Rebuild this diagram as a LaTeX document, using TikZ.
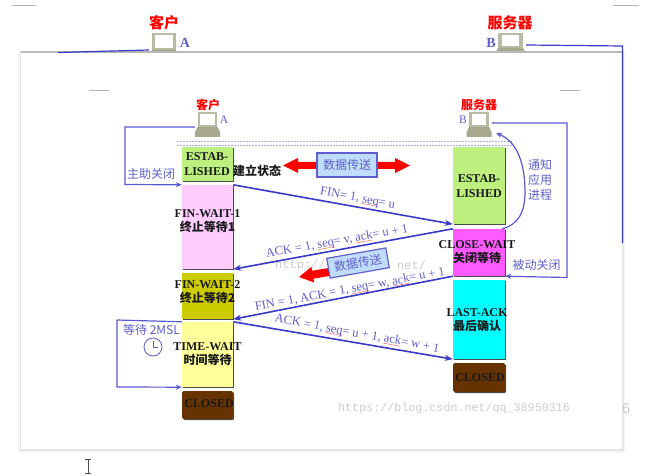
\documentclass[tikz,border=0pt]{standalone}
\usepackage{fontspec}
\setmainfont{Liberation Serif}
\setmonofont{Liberation Mono}
\newfontfamily\cjk{Noto Sans CJK SC}
\usetikzlibrary{arrows.meta,shadows,calc}
\definecolor{lnblue}{HTML}{3A3AC8}
\definecolor{lblblue}{HTML}{5F5FCC}
\definecolor{pcgray}{HTML}{A9A98F}
\definecolor{boxblue}{HTML}{BFDDFB}
\newcommand{\squig}[1]{\setbox0=\hbox{#1}\rlap{\color{red!70}\rule[-1.4pt]{\wd0}{0.4pt}}\box0}
\tikzset{
  statebox/.style={inner sep=0pt,copy shadow={shadow xshift=1.2pt,shadow yshift=-1.2pt,fill=black!70,draw=none}},
  flow/.style={draw=lnblue,line width=1.6pt,-{Stealth[length=8pt,width=6pt]}},
  loopline/.style={draw=lnblue!85,line width=1.2pt,-{Stealth[length=6pt,width=5pt]}},
  flowlabel/.style={inner sep=0pt,text=lblblue,font=\fontsize{12.5}{14}\selectfont},
  cnlabel/.style={inner sep=0pt,text=lblblue,font=\fontsize{12}{15}\selectfont\cjk,align=center},
  redlabel/.style={inner sep=0pt,text=red,font=\fontsize{12}{14}\selectfont\cjk\bfseries},
  toplabel/.style={inner sep=0pt,text=red,font=\fontsize{15}{17}\selectfont\cjk\bfseries},
  letter/.style={inner sep=0pt,text=lblblue,font=\fontsize{11.5}{13}\selectfont},
  topletter/.style={inner sep=0pt,text=lblblue,font=\fontsize{14}{15}\selectfont\bfseries},
  databox/.style={draw=lblblue,line width=1.2pt,fill=boxblue,inner sep=0pt,text=lblblue,font=\fontsize{12}{14}\selectfont\cjk},
  redarrow/.style={draw=none,fill=red},
  tick/.style={draw=black!30,line width=.7pt},
  pcnode/.style={inner sep=0pt,minimum height=20pt},
  water/.style={inner sep=0pt,text=black!20,font=\fontsize{12}{14}\selectfont\ttfamily},
  statetext/.style={inner sep=0pt,align=center,text=black!90,font=\fontsize{12}{14.5}\selectfont\bfseries}
}
% #1 name, #2 x centre, #3 y top, #4 half width of base, #5 screen height
\newcommand{\pcicon}[5]{%
  \node[pcnode,minimum width={2*#4*1pt}] (#1) at (#2,#3+10) {};
  \fill[pcgray!80] (#2-#4*.78,#3) rectangle (#2+#4*.78,#3+#5);
  \fill[white] (#2-#4*.58,#3+2) rectangle (#2+#4*.58,#3+#5-1.5);
  \fill[pcgray] (#2-#4*.8,#3+#5) -- (#2+#4*.8,#3+#5) -- (#2+#4,#3+#5+5) -- (#2+#4,#3+#5+10) -- (#2-#4,#3+#5+10) -- (#2-#4,#3+#5+5) -- cycle;
}
\begin{document}
\begin{tikzpicture}[x=1pt,y=-1pt]
\useasboundingbox (0,0) rectangle (649,476);
\fill[white] (0,0) rectangle (649,476);
% back sheet
\draw[tick] (12,5) -- (36,5);
\draw[tick] (613,5) -- (639,5);
\node[toplabel] (tc) at (164,23) {客户};
\node[toplabel] (ts) at (510,23) {服务器};
\pcicon{tpa}{164}{33}{15}{17}
\pcicon{tpb}{510.5}{33}{15.5}{15}
\node[topletter] (ta) at (185,43) {A};
\node[topletter] (tb) at (491,43) {B};
% front sheet
\fill[black!4] (18,51) rectangle (625,453);
\fill[black!10] (19.5,51.5) rectangle (623.5,451);
\fill[black!28] (21,51) rectangle (622,53);
\node[fill=white,inner sep=0pt,minimum width=601pt,minimum height=396pt] (sheet) at (321.5,251) {};
\coordinate (tl) at (58,52.5);
\coordinate (tr) at (622.5,46);
\coordinate (tre) at (622.5,243);
\draw[lnblue,line width=1.2pt] (tpa.west |- 0,50) -- (tl);
\draw[lnblue,line width=1.2pt] (tpb.east |- 0,45) -- (tr) -- (tre);
\draw[tick] (89,90) -- (109,90);
\draw[tick] (560,90) -- (580,90);
% watermarks
\node[water,anchor=west] (w1) at (275,265) {http://};
\node[water,anchor=west] (w2) at (397,265) {net/};
\node[water,anchor=west,font=\fontsize{11.7}{14}\selectfont\ttfamily] (w3) at (338,408) {https://blog.csdn.net/qq\_38950316};
\node[water,font=\fontsize{15}{16}\selectfont\ttfamily] (w4) at (626,409) {6};
% computers
\node[redlabel] (kh) at (208,105) {客户};
\node[redlabel] (fwq) at (479,105) {服务器};
\pcicon{pca}{207.5}{112}{12.5}{15}
\pcicon{pcb}{479}{112}{12.5}{15}
\node[letter] (la) at (224,120) {A};
\node[letter] (lb) at (463,120) {B};
% dotted
\coordinate (d1) at (177,141); \coordinate (d2) at (512,141);
\coordinate (d3) at (177,145); \coordinate (d4) at (512,145);
\draw[lblblue!50,line width=.9pt,dash pattern=on 1.5pt off 1.5pt] (d1) -- (d2);
\draw[lblblue!50,line width=.9pt,dash pattern=on 1.5pt off 1.5pt] (d3) -- (d4);
% client states
\node[statebox,fill={rgb,255:red,189;green,240;blue,127},minimum width=51pt,minimum height=34pt] (cest) at (207.5,164) {};
\node[statebox,fill={rgb,255:red,255;green,204;blue,255},minimum width=51pt,minimum height=84pt] (cfin1) at (207.5,227) {};
\node[statebox,fill={rgb,255:red,204;green,204;blue,0},minimum width=51pt,minimum height=46pt] (cfin2) at (207.5,296) {};
\node[statebox,fill={rgb,255:red,255;green,255;blue,153},minimum width=51pt,minimum height=65pt] (ctime) at (207.5,354.5) {};
\node[statebox,fill={rgb,255:red,102;green,51;blue,0},rounded corners=1.5pt,minimum width=51pt,minimum height=28pt] (cclosed) at (207.5,405) {};
% server states
\node[statebox,fill={rgb,255:red,189;green,240;blue,127},minimum width=52pt,minimum height=77pt] (sest) at (479,185.5) {};
\node[statebox,fill={rgb,255:red,255;green,90;blue,255},minimum width=52pt,minimum height=47pt] (scw) at (479,252.5) {};
\node[statebox,fill={rgb,255:red,0;green,255;blue,255},minimum width=52pt,minimum height=79pt] (sla) at (479,319.5) {};
\node[statebox,fill={rgb,255:red,102;green,51;blue,0},rounded corners=1.5pt,minimum width=52pt,minimum height=29pt] (sclosed) at (479,377.5) {};
% state texts
\node[statetext] (t1) at (207,164) {ESTAB-\\LISHED};
\node[statetext,font=\fontsize{12}{14}\selectfont\cjk\bfseries,anchor=west] (t1b) at (233,171) {建立状态};
\node[statetext] (t2) at (207.5,221) {FIN-WAIT-1\\{\cjk 终止等待1}};
\node[statetext] (t3) at (207.5,292) {FIN-WAIT-2\\{\cjk 终止等待2}};
\node[statetext] (t4) at (207.5,354) {TIME-WAIT\\{\cjk 时间等待}};
\node[statetext] (t5) at (209,404) {CLOSED};
\node[statetext] (t6) at (479,186) {ESTAB-\\LISHED};
\node[statetext] (t7) at (477,252) {CLOSE-WAIT\\{\cjk 关闭等待}};
\node[statetext] (t8) at (477,320) {LAST-ACK\\{\cjk 最后确认}};
\node[statetext] (t9) at (480,378) {CLOSED};
% flows
\draw[flow] (cfin1.north east) -- (sest.south west);
\draw[flow] (scw.north west) -- (cfin1.south east);
\draw[flow] (scw.south west) -- (cfin2.south east);
\draw[flow] (ctime.north east) -- (sla.south west);
\node[flowlabel,rotate=-10.5] (f1) at (357.5,198.5) {FIN= 1, \squig{seq} = u};
\node[flowlabel,rotate=10] (f2) at (337,242) {ACK = 1, \squig{seq}= v, \squig{ack}= u + 1};
\node[flowlabel,rotate=10.6] (f3) at (350,290) {FIN = 1, ACK = 1, \squig{seq} = w, \squig{ack}= u + 1};
\node[flowlabel,rotate=-10.5] (f4) at (357,334) {ACK = 1, \squig{seq}= u + 1, \squig{ack} = w + 1};
% loops
\coordinate (c1) at (125,127); \coordinate (c2) at (125,184.5);
\draw[loopline] (pca.west |- c1) -- (c1) -- (c2) -- (cfin1.north west);
\node[cnlabel] (zd) at (151,174) {主助关闭};
\coordinate (c3) at (567,123); \coordinate (c4) at (567,277.5);
\draw[loopline] (pcb.east |- c3) -- (c3) -- (c4) -- (scw.south east);
\node[cnlabel] (bd) at (536.5,265) {被动关闭};
\coordinate (cv) at (525,192);
\draw[loopline] ($(scw.north east)+(-3,0)$) .. controls (520,224) and (525,210) .. (cv) .. controls (525,165) and (518,142) .. (496,133);
\node[cnlabel] (tz) at (540,180) {通知\\应用\\进程};
\coordinate (c5) at (117,320); \coordinate (c6) at (117,387);
\draw[draw=lnblue!85,line width=1.2pt] (ctime.north west) -- (c5);
\draw[loopline] (c5) -- (c6) -- (ctime.south west);
\node[cnlabel] (dd) at (151.5,330) {等待 2MSL};
\node[draw=lblblue,line width=.8pt,circle,minimum size=18pt,inner sep=0pt] (clk) at (153,347) {};
\draw[lblblue,line width=.8pt] (clk.center) ++(0,-6) -- (clk.center) -- ++(5,0);
% data transfer
\fill[redarrow] (283,165.5) -- (298,158) -- (298,162) -- (395,162) -- (395,158) -- (410,165.5) -- (395,173) -- (395,169) -- (298,169) -- (298,173) -- cycle;
\node[databox,minimum width=60pt,minimum height=24pt] (db1) at (347,165) {数据传送};
\fill[redarrow,rotate around={9.5:(299,277)}] (299,277) -- (313,269) -- (313,273) -- (334,273) -- (334,281) -- (313,281) -- (313,285) -- cycle;
\node[databox,rotate=10,minimum width=60pt,minimum height=20pt] (db2) at (358,263) {数据传送};
% cursor
\coordinate (i1) at (88,459.5); \coordinate (i2) at (88,473.5);
\draw[black!70,line width=1pt] (i1) -- (i2);
\draw[black!70,line width=.8pt] ($(i1)+(-3,0)$) -- ($(i1)+(3,0)$);
\draw[black!70,line width=.8pt] ($(i2)+(-3,0)$) -- ($(i2)+(3,0)$);
\end{tikzpicture}
\end{document}
